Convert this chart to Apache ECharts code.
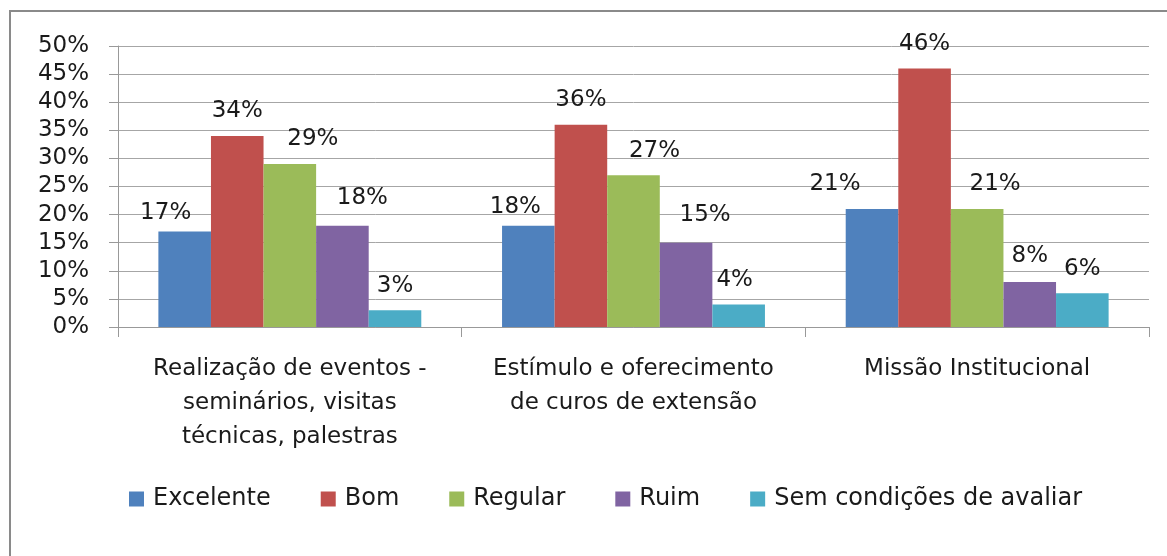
<!DOCTYPE html>
<html>
<head>
<meta charset="utf-8">
<script src="https://cdn.jsdelivr.net/npm/echarts@6/dist/echarts.min.js"></script>
<style>
  html, body { margin: 0; padding: 0; background: #fff; }
  #chart { width: 1167px; height: 556px; }
</style>
</head>
<body>
<div id="chart"></div>
<script>
const categories = [
  'Realização de eventos -\nseminários, visitas\ntécnicas, palestras',
  'Estímulo e oferecimento\nde curos de extensão',
  'Missão Institucional'
];
const seriesNames = ['Excelente', 'Bom', 'Regular', 'Ruim', 'Sem condições de avaliar'];
const excelente = [17, 18, 21];
const bom = [34, 36, 46];
const regular = [29, 27, 21];
const ruim = [18, 15, 8];
const semCondicoes = [3, 4, 6];
const yTicks = [0, 5, 10, 15, 20, 25, 30, 35, 40, 45, 50];

const values = [excelente, bom, regular, ruim, semCondicoes];
const colors = ['#4F81BD', '#C0504D', '#9BBB59', '#8064A2', '#4BACC6'];
// label nudges so the percentages sit where the original put them
const labelShift = [
  [[-19, 6], [-13, 6], [-37, 0]],
  [[0, 0], [0, 0], [0, 0]],
  [[23, 0], [21, 0], [18, 0]],
  [[20, -3], [19, -3], [0, -2]],
  [[0, 0], [-4, 0], [0, 0]]
];
const font = 'DejaVu Sans';

const chart = echarts.init(document.getElementById('chart'));

const series = seriesNames.map((name, i) => ({
  name: name,
  type: 'bar',
  barGap: '0%',
  barCategoryGap: '23.5%',
  itemStyle: { color: colors[i] },
  data: values[i].map((v, j) => ({
    value: v,
    label: { offset: labelShift[i][j] }
  })),
  label: {
    show: true,
    position: 'top',
    distance: 13,
    formatter: '{c}%',
    fontFamily: font,
    fontSize: 23,
    color: '#1a1a1a'
  }
}));

chart.setOption({
  animation: false,
  backgroundColor: '#fff',
  graphic: [{
    type: 'rect',
    shape: { x: 10, y: 11, width: 1300, height: 700 },
    style: { fill: 'none', stroke: '#8a8a8a', lineWidth: 2 },
    silent: true
  }],
  grid: { left: 118, right: 18, top: 46, bottom: 229 },
  legend: {
    data: seriesNames,
    left: 124,
    top: 482,
    itemWidth: 15,
    itemHeight: 15,
    itemGap: 50,
    icon: 'rect',
    textStyle: { fontFamily: font, fontSize: 24, color: '#1a1a1a', padding: [0, 0, 0, 4] }
  },
  xAxis: {
    type: 'category',
    data: categories,
    axisLine: { lineStyle: { color: '#999', width: 1 } },
    axisTick: { show: true, length: 10, lineStyle: { color: '#999' } },
    axisLabel: {
      margin: 25,
      fontFamily: font,
      fontSize: 23,
      lineHeight: 34,
      color: '#1a1a1a',
      interval: 0
    }
  },
  yAxis: {
    type: 'value',
    min: yTicks[0],
    max: yTicks[yTicks.length - 1],
    interval: yTicks[1] - yTicks[0],
    axisLine: { show: true, lineStyle: { color: '#999', width: 1 } },
    axisTick: { show: true, length: 9, lineStyle: { color: '#999' } },
    splitLine: { lineStyle: { color: '#a6a6a6', width: 1 } },
    axisLabel: {
      margin: 29,
      formatter: '{value}%',
      fontFamily: font,
      fontSize: 23,
      color: '#1a1a1a'
    }
  },
  series: series
});
</script>
</body>
</html>
